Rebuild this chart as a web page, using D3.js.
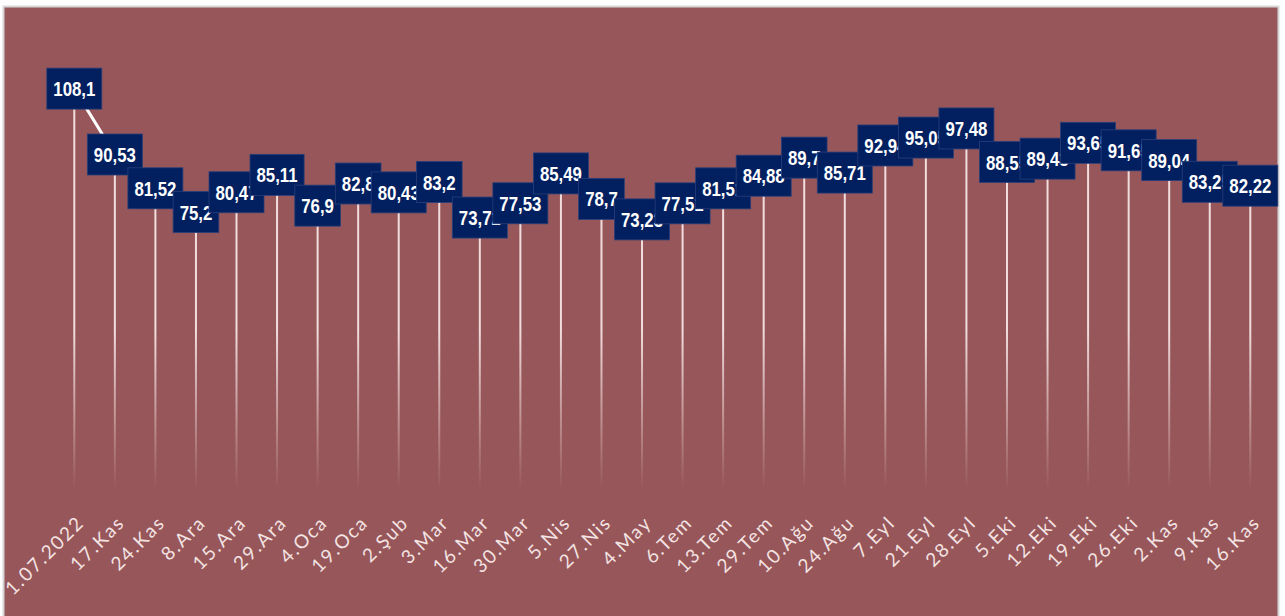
<!DOCTYPE html>
<html>
<head>
<meta charset="utf-8">
<script src="https://cdn.jsdelivr.net/npm/d3@7"></script>
<style>
body { margin: 0; background: #ffffff; }
.lbl text { font-family: "Liberation Sans", Arial, sans-serif; font-weight: bold; font-size: 21px; fill: #ffffff; }
.xlab { font-family: Lato, "Open Sans", sans-serif; font-size: 19px; fill: #f3e3e3; letter-spacing: 1.8px; }
</style>
</head>
<body>
<script>

// dates on x axis
var categories = ["1.07.2022","17.Kas","24.Kas","8.Ara","15.Ara","29.Ara","4.Oca","19.Oca","2.Şub","3.Mar",
  "16.Mar","30.Mar","5.Nis","27.Nis","4.May","6.Tem","13.Tem","29.Tem","10.Ağu","24.Ağu",
  "7.Eyl","21.Eyl","28.Eyl","5.Eki","12.Eki","19.Eki","26.Eki","2.Kas","9.Kas","16.Kas"];

// values (hidden last digits are guesses, they sit under the next label)
var values = [108.1, 90.53, 81.52, 75.2, 80.47, 85.11, 76.9, 82.8, 80.43, 83.2,
  73.72, 77.53, 85.49, 78.7, 73.23, 77.51, 81.51, 84.88, 89.7, 85.71,
  92.94, 95.05, 97.48, 88.55, 89.43, 93.65, 91.65, 89.04, 83.25, 82.22];

var yDomain = [0, 120];

var W = 1285, H = 616;
var svg = d3.select("body").append("svg").attr("width", W).attr("height", H);

// frame
svg.append("rect").attr("x", 3.5).attr("y", 6.5).attr("width", 1275).attr("height", 620)
  .attr("fill", "#975659").attr("stroke", "#d6d6d6").attr("stroke-width", 2);

var x = d3.scalePoint().domain(categories).range([74.3, 1250.3]);
var y = d3.scaleLinear().domain(yDomain).range([494, 44]);

var data = categories.map((c, i) => ({cat: c, v: values[i]}));

var defs = svg.append("defs");
var grad = defs.append("linearGradient").attr("id", "dropg")
  .attr("gradientUnits", "userSpaceOnUse")
  .attr("x1", 0).attr("x2", 0).attr("y1", 330).attr("y2", 490);
grad.append("stop").attr("offset", 0).attr("stop-color", "#f6e4e4").attr("stop-opacity", 0.95);
grad.append("stop").attr("offset", 1).attr("stop-color", "#f6e4e4").attr("stop-opacity", 0);

// drop lines
svg.append("g").selectAll("line").data(data).join("line")
  .attr("x1", d => x(d.cat)).attr("x2", d => x(d.cat))
  .attr("y1", d => y(d.v)).attr("y2", y(0))
  .attr("stroke", "url(#dropg)").attr("stroke-width", 2);

// connecting line
svg.append("path").datum(data)
  .attr("d", d3.line().x(d => x(d.cat)).y(d => y(d.v)))
  .attr("fill", "none").attr("stroke", "#ffffff").attr("stroke-width", 3);

// labels, later ones drawn on top
var sx = 0.8;
var lbl = svg.append("g").attr("class", "lbl").selectAll("g").data(data).join("g")
  .attr("transform", d => "translate(" + x(d.cat) + "," + y(d.v) + ")");
lbl.each(function(d) {
  var g = d3.select(this);
  var r = g.append("rect");
  var t = g.append("text").attr("text-anchor", "middle").attr("dy", "0.36em")
    .attr("transform", "scale(" + sx + ",1)")
    .text(String(d.v).replace(".", ","));
  var w = t.node().getComputedTextLength() * sx + 13;
  r.attr("x", -w / 2).attr("y", -20.5).attr("width", w).attr("height", 41)
    .attr("fill", "#022060").attr("stroke", "#2a3f78").attr("stroke-width", 0.8);
});

// x axis labels
svg.append("g").selectAll("text").data(categories).join("text")
  .attr("class", "xlab")
  .attr("text-anchor", "end")
  .attr("transform", d => "translate(" + (x(d) + 11) + ",524) rotate(-45)")
  .text(d => d);

</script>
</body>
</html>
